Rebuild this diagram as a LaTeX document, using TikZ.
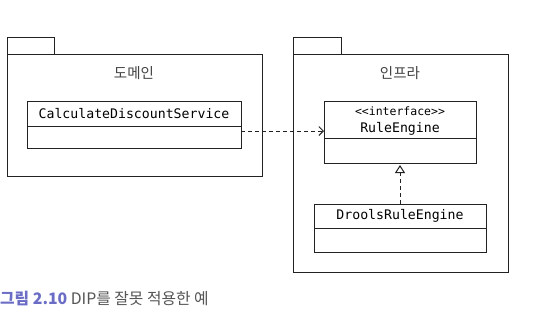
\documentclass[tikz,border=0pt]{standalone}
\usepackage{fontspec}
\setmainfont{Noto Sans CJK KR}
\setmonofont{DejaVu Sans Mono}
\usetikzlibrary{arrows.meta,calc}
\definecolor{capblue}{HTML}{6A6CC6}
\definecolor{capgray}{HTML}{555555}
\definecolor{ink}{HTML}{222222}
\tikzset{
  pkg/.style={draw=ink, line width=1pt, inner sep=0pt, outer sep=0pt},
  cls/.style={draw=ink, line width=1pt, inner sep=0pt, outer sep=0pt},
  clsname/.style={font=\ttfamily\fontsize{13.2}{15}\selectfont, text=black, inner sep=0pt},
  stereo/.style={font=\ttfamily\fontsize{11.5}{13}\selectfont, text=black, inner sep=0pt},
  pkgtitle/.style={font=\fontsize{14.5}{16}\selectfont, text=ink!85, inner sep=0pt},
  dep/.style={draw=ink, line width=0.9pt, dash pattern=on 4pt off 3pt, -{Straight Barb[length=4.5pt,width=9pt,line width=0.9pt]}},
  real/.style={draw=ink, line width=0.9pt, dash pattern=on 4pt off 3pt, -{Triangle[open,length=8pt,width=10pt,line width=1pt]}},
}
\begin{document}
\begin{tikzpicture}[x=1pt,y=-1pt]
\useasboundingbox[fill=white] (0,0) rectangle (551,333);
% domain package
\node[pkg, minimum width=255pt, minimum height=122pt, anchor=north west] (dom) at (7,54) {};
\node[pkg, minimum width=47pt, minimum height=17pt, anchor=south west] (domtab) at (dom.north west) {};
\node[pkgtitle] (domt) at (134,73) {도메인};
\node[cls, minimum width=214pt, minimum height=47pt, anchor=north west] (cds) at (27,101) {};
\draw[ink, line width=1pt] ($(cds.north west)+(0,25)$) -- ($(cds.north east)+(0,25)$);
\node[clsname] (cdsn) at ($(cds.north)+(0,12.5)$) {CalculateDiscountService};
% infra package
\node[pkg, minimum width=215pt, minimum height=218pt, anchor=north west] (inf) at (293,54) {};
\node[pkg, minimum width=48pt, minimum height=17pt, anchor=south west] (inftab) at (inf.north west) {};
\node[pkgtitle] (inft) at (400,73) {인프라};
\node[cls, minimum width=152pt, minimum height=62pt, anchor=north west] (re) at (324,101) {};
\draw[ink, line width=1pt] ($(re.north west)+(0,37)$) -- ($(re.north east)+(0,37)$);
\node[stereo] (res) at ($(re.north)+(0,10)$) {<{}<interface>{}>};
\node[clsname] (ren) at ($(re.north)+(0,28)$) {RuleEngine};
\node[cls, minimum width=172pt, minimum height=48pt, anchor=north west] (dr) at (314,204) {};
\draw[ink, line width=1pt] ($(dr.north west)+(0,24)$) -- ($(dr.north east)+(0,24)$);
\node[clsname] (drn) at ($(dr.north)+(0,12)$) {DroolsRuleEngine};
% connectors
\coordinate (depA) at ($(cds.north east)+(0,30)$);
\draw[dep] (depA) -- (depA -| re.west);
\draw[real] (dr.north) -- ($(re.south)+(0,2)$);
% caption
\node[anchor=west, inner sep=0pt, font=\fontsize{15.8}{18}\selectfont] (cap) at (0,299) {\textcolor{capblue}{\bfseries 그림 2.10}\ \textcolor{capgray}{DIP를 잘못 적용한 예}};
\end{tikzpicture}
\end{document}
